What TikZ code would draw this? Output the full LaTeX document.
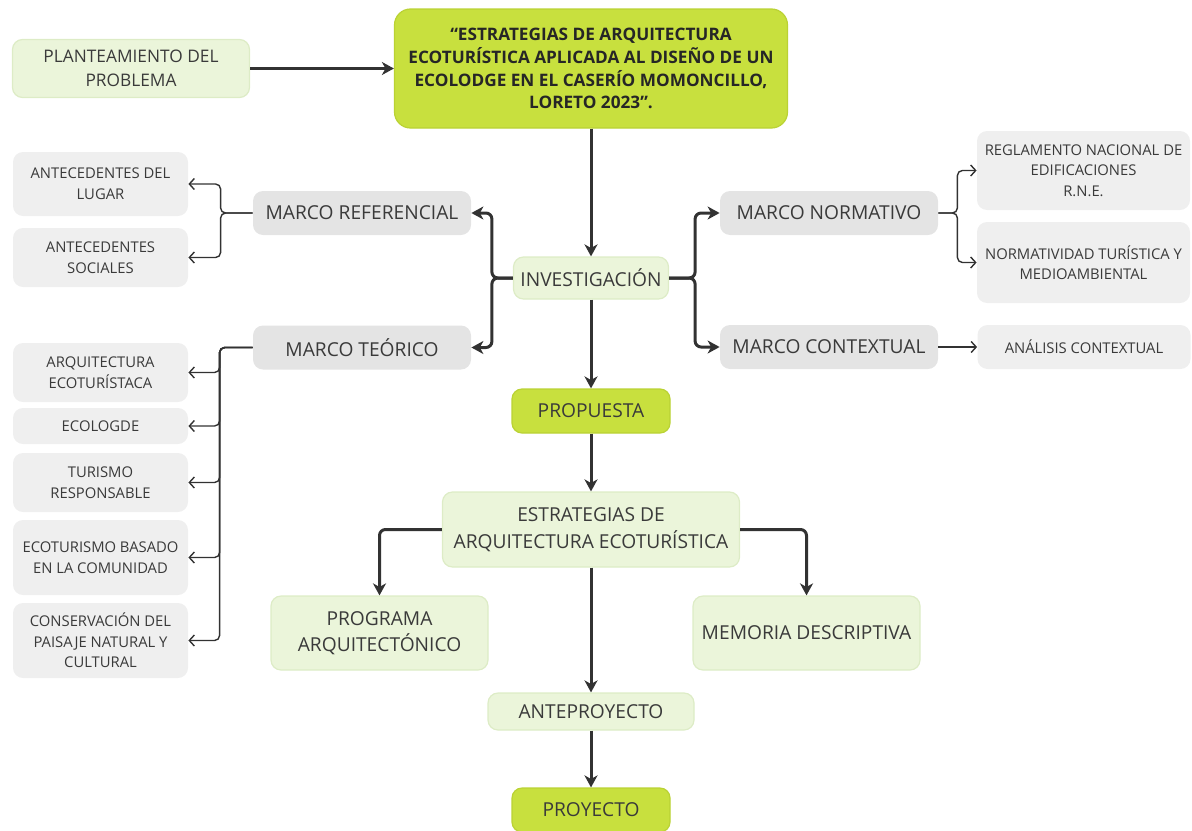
\documentclass[tikz,border=0pt]{standalone}
\usepackage{fontspec}
\setmainfont{Open Sans}
\usetikzlibrary{positioning, arrows.meta}
\definecolor{limegreen}{RGB}{200,224,62}
\definecolor{limeedge}{RGB}{186,210,52}
\definecolor{softgreen}{RGB}{235,245,218}
\definecolor{softedge}{RGB}{221,236,198}
\definecolor{marcogray}{RGB}{228,228,228}
\definecolor{leafgray}{RGB}{239,239,239}
\definecolor{inkgray}{RGB}{58,58,58}
\definecolor{inkline}{RGB}{50,50,50}
\tikzset{
box/.style={rectangle, rounded corners=5pt, inner sep=0pt, align=center, text=inkgray, font=\fontsize{9.6}{13.3}\selectfont}, % common look of every box
keybox/.style={box, fill=limegreen, draw=limeedge, line width=0.6pt}, % strong green boxes
softbox/.style={box, fill=softgreen, draw=softedge, line width=0.6pt}, % pale green boxes
marco/.style={box, fill=marcogray, minimum width=109pt, minimum height=22pt}, % the four "marco" boxes
leaf/.style={box, fill=leafgray, font=\fontsize{7.4}{10.3}\selectfont}, % small grey boxes
leftleaf/.style={leaf, minimum width=87.5pt},
rightleaf/.style={leaf, minimum width=106.5pt},
}
\tikzset{
link/.style={draw=inkline, line width=1.5pt, rounded corners=3pt, -{Stealth[length=6pt,width=6.5pt,inset=1.8pt]}}, % bold arrows
sublink/.style={draw=inkline, line width=0.7pt, rounded corners=2.5pt, -{Straight Barb[length=2.5pt,width=5.5pt]}} % thin arrows
}

\begin{document}
\begin{tikzpicture}
      \useasboundingbox (0,0) rectangle (596pt,-415pt);

      % central column
      \node[keybox, rounded corners=8pt, minimum width=196.5pt, minimum height=59.5pt, text=black!85,
        font=\fontsize{8.6}{11.4}\selectfont\bfseries] (tit) at (295.5pt,-34.25pt)
        {“ESTRATEGIAS DE ARQUITECTURA\\ECOTURÍSTICA APLICADA AL DISEÑO DE UN\\ECOLODGE EN EL CASERÍO MOMONCILLO,\\LORETO 2023”.};
      \node[softbox, node distance=230pt, left of=tit, minimum width=118.5pt, minimum height=29pt,
        font=\fontsize{8.65}{11.7}\selectfont] (plan) {PLANTEAMIENTO DEL\\PROBLEMA};
      \node[softbox, node distance=104.75pt, below of=tit, minimum width=77.5pt, minimum height=21pt] (inv) {INVESTIGACIÓN};
      \node[keybox, node distance=66.5pt, below of=inv, minimum width=79pt, minimum height=22pt] (prop) {PROPUESTA};
      \node[softbox, node distance=59.25pt, below of=prop, minimum width=148.5pt, minimum height=37.5pt] (estr) {ESTRATEGIAS DE\\ARQUITECTURA ECOTURÍSTICA};
      \node[softbox, node distance=91pt, below of=estr, minimum width=103pt, minimum height=18.5pt] (ante) {ANTEPROYECTO};
      \node[keybox, node distance=49.25pt, below of=ante, minimum width=79pt, minimum height=22pt] (proy) {PROYECTO};
      \node[softbox, node distance=105.75pt, left of=estr, yshift=-51.75pt, minimum width=108.5pt, minimum height=37pt] (prog) {PROGRAMA\\ARQUITECTÓNICO};
      \node[softbox, node distance=107.75pt, right of=estr, yshift=-51.75pt, minimum width=113.5pt, minimum height=37pt] (mem) {MEMORIA DESCRIPTIVA};

      % marcos
      \node[marco, node distance=114.5pt, left of=inv, yshift=32.5pt] (mref) {MARCO REFERENCIAL};
      \node[marco, node distance=114.5pt, left of=inv, yshift=-34.75pt] (mteo) {MARCO TEÓRICO};
      \node[marco, node distance=119pt, right of=inv, yshift=32.5pt] (mnor) {MARCO NORMATIVO};
      \node[marco, node distance=119pt, right of=inv, yshift=-34.5pt] (mcon) {MARCO CONTEXTUAL};

      % left leaves
      \node[leftleaf, node distance=130.75pt, left of=mref, yshift=14.5pt, minimum height=32pt] (alug) {ANTECEDENTES DEL\\LUGAR};
      \node[leftleaf, node distance=36.75pt, below of=alug, minimum height=29.5pt] (asoc) {ANTECEDENTES\\SOCIALES};
      \node[leftleaf, node distance=130.75pt, left of=mteo, yshift=-12.5pt, minimum height=29.5pt] (arq) {ARQUITECTURA\\ECOTURÍSTACA};
      \node[leftleaf, node distance=26.75pt, below of=arq, minimum height=18pt] (eco) {ECOLOGDE};
      \node[leftleaf, node distance=28.25pt, below of=eco, minimum height=29.5pt] (tur) {TURISMO\\RESPONSABLE};
      \node[leftleaf, node distance=37.5pt, below of=tur, minimum height=37.5pt] (com) {ECOTURISMO BASADO\\EN LA COMUNIDAD};
      \node[leftleaf, node distance=41.5pt, below of=com, minimum height=37.5pt] (con) {CONSERVACIÓN DEL\\PAISAJE NATURAL Y\\CULTURAL};

      % right leaves
      \node[rightleaf, node distance=127.25pt, right of=mnor, yshift=21.25pt, minimum height=39.5pt] (rne) {REGLAMENTO NACIONAL DE\\EDIFICACIONES\\R.N.E.};
      \node[rightleaf, node distance=46pt, below of=rne, minimum height=40.5pt] (nor) {NORMATIVIDAD TURÍSTICA Y\\MEDIOAMBIENTAL};
      \node[rightleaf, node distance=127.5pt, right of=mcon, minimum height=22pt] (ana) {ANÁLISIS CONTEXTUAL};

      \foreach \a/\b in {plan/tit, tit/inv, inv/prop, prop/estr, estr/ante, ante/proy}
        \draw[link] (\a) -- (\b);
      \draw[link] (estr.west) -| (prog.north);
      \draw[link] (estr.east) -| (mem.north);
      \draw[link] (inv.west) -- ++(-10.5pt,0) |- (mref.east);
      \draw[link] (inv.west) -- ++(-10.5pt,0) |- (mteo.east);
      \draw[link] (inv.east) -- ++(13pt,0) |- (mnor.west);
      \draw[link] (inv.east) -- ++(13pt,0) |- (mcon.west);

      \foreach \n in {alug,asoc}
        \draw[sublink] (mref.west) -- ++(-16pt,0) |- (\n.east);
      \foreach \n in {arq,eco,tur,com,con}
        \draw[sublink] (mteo.west) -- ++(-16.5pt,0) |- (\n.east);
      \foreach \n in {rne,nor}
        \draw[sublink] (mnor.east) -- ++(9.5pt,0) |- (\n.west);
      \draw[sublink] (mcon) -- (ana);
    \end{tikzpicture}
\end{document}
